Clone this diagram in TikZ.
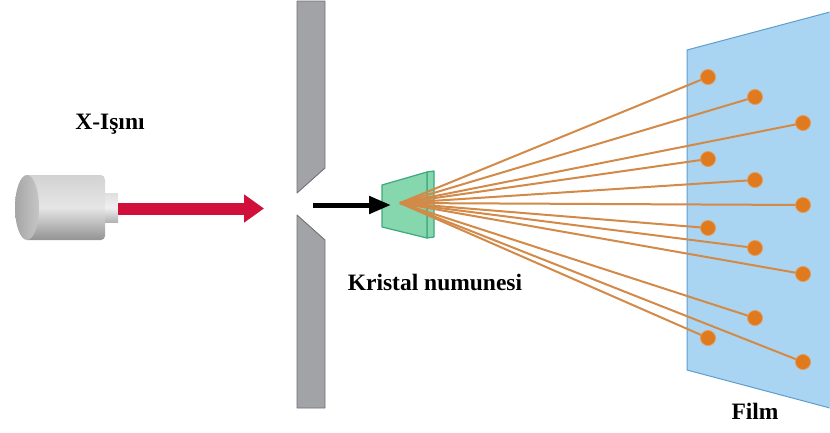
\documentclass[tikz,border=0pt]{standalone}
\usepackage{fontspec}
\setmainfont{Liberation Serif}
\usetikzlibrary{arrows.meta}
\definecolor{wallgray}{HTML}{A2A3A7}
\definecolor{walledge}{HTML}{727276}
\definecolor{filmblue}{HTML}{A9D5F2}
\definecolor{filmedge}{HTML}{5E9ECF}
\definecolor{spot}{HTML}{DF7A1E}
\definecolor{spotedge}{HTML}{E89A55}
\definecolor{raycol}{HTML}{D38A48}
\definecolor{beamred}{HTML}{D0103A}
\definecolor{xtalfill}{HTML}{86D6AE}
\definecolor{xtaledge}{HTML}{3BAA7C}
\tikzset{
  wall/.style={fill=wallgray, draw=walledge, line width=0.9pt, line join=round},
  spotdot/.style={circle, fill=spot, draw=spotedge, line width=0.8pt, inner sep=0pt, minimum size=15pt},
  ray/.style={draw=raycol, line width=2pt},
  lbl/.style={font=\fontsize{23.5}{26}\selectfont\bfseries, text=black, inner sep=0pt},
  xtal/.style={fill=xtalfill, draw=xtaledge, line width=1.2pt, line join=round},
}
\begin{document}
\begin{tikzpicture}[x=1pt, y=-1pt]
\useasboundingbox (0,0) rectangle (830,432);
\fill[white] (0,0) rectangle (830,432);

% slit plate
\draw[wall] (297,1) -- (325,1) -- (325,168) -- (297,193) -- cycle;
\draw[wall] (297,215) -- (325,240) -- (325,408) -- (297,408) -- cycle;

% film
\filldraw[fill=filmblue, draw=filmedge, line width=1pt] (830,12) -- (687,50) -- (687,370) -- (830,408);
\fill[filmblue] (830,12) -- (830,408) -- (829,408) -- (829,12) -- cycle;

% X-ray tube
\shade[top color=gray!35, bottom color=gray!85, middle color=gray!20] (27,175) -- (101,175) to[out=0,in=90] (105,180) -- (105,236) to[out=-90,in=0] (101,240) -- (27,240) -- cycle;
\shade[left color=gray!70, right color=gray!45] (27,207.5) ellipse [x radius=12, y radius=32.5];
\shade[top color=gray!25, bottom color=gray!60, middle color=gray!12] (105,193) rectangle (118,222);

% primary beam
\draw[beamred, line width=12pt, -{Triangle[length=20pt, width=27pt]}] (118,208.5) -- (264,208.5);

% crystal sample
\draw[xtal] (427,172) -- (434,171) -- (434,237) -- (427,238) -- cycle;
\draw[xtal] (382,185) -- (427,172) -- (427,238) -- (382,227) -- cycle;

% collimated beam
\coordinate (slit) at (313,205);
\coordinate (hit) at (391,205);
\draw[black, line width=5pt, -{Triangle[length=22pt, width=17pt]}] (slit) -- (hit);

% diffraction spot positions
\coordinate (src) at (400,203);
\coordinate (p1)  at (708,77);
\coordinate (p2)  at (755,97);
\coordinate (p3)  at (803,123);
\coordinate (p4)  at (708,159);
\coordinate (p5)  at (755,180);
\coordinate (p6)  at (803,205);
\coordinate (p7)  at (708,228);
\coordinate (p8)  at (755,248);
\coordinate (p9)  at (803,274);
\coordinate (p10) at (755,318);
\coordinate (p11) at (708,338);
\coordinate (p12) at (803,362);

% diffracted rays and spots
\foreach \k in {1,...,12} {
  \draw[ray] (src) -- (p\k);
}
\foreach \k in {1,...,12} {
  \node[spotdot] (s\k) at (p\k) {};
}

% labels
\node[lbl] (xlabel) at (110,124) {X-Işını};
\node[lbl] (klabel) at (435,282) {Kristal numunesi};
\node[lbl] (flabel) at (755,411) {Film};
\end{tikzpicture}
\end{document}
